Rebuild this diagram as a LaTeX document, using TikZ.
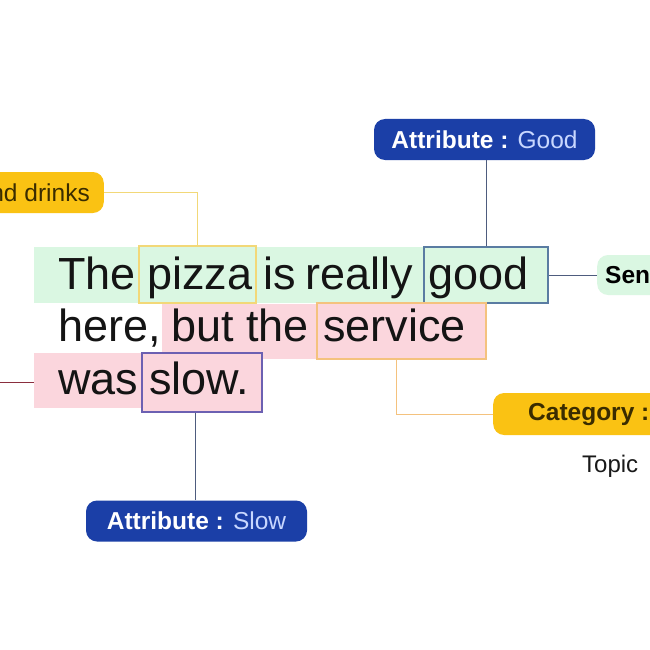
\documentclass[tikz,border=0pt]{standalone}
\usepackage{fontspec}
\setmainfont{Liberation Sans}
\begin{document}
\begin{tikzpicture}[x=1pt,y=-1pt,
  word/.style={anchor=base west,inner sep=0pt,text=black!92,font=\fontsize{45}{54}\selectfont},
  wbox/.style={rectangle,draw,line width=1.1pt,inner sep=0pt},
  pill/.style={rectangle,rounded corners=11pt,inner sep=0pt,minimum height=41pt,font=\fontsize{24.5}{29}\selectfont},
  conn/.style={line width=1pt}]
\definecolor{mint}{HTML}{DAF7E2}
\definecolor{pinkbg}{HTML}{FBD6DD}
\definecolor{ylw}{HTML}{F2D878}
\definecolor{orng}{HTML}{F4C27E}
\definecolor{slate}{HTML}{5A7CA2}
\definecolor{purp}{HTML}{6C60B2}
\definecolor{navy}{HTML}{1B3FA7}
\definecolor{lightnavy}{HTML}{C8D7FF}
\definecolor{gold}{HTML}{FAC213}
\definecolor{goldtext}{HTML}{3A2C00}
\definecolor{lineslate}{HTML}{4E5C7E}
\definecolor{darkred}{HTML}{8A2E3E}
\useasboundingbox (0,0) rectangle (650,650);
\clip (0,0) rectangle (650,650);
\fill[white] (0,0) rectangle (650,650);
% highlight bands
\fill[mint] (34,247) rectangle (548,303);
\fill[pinkbg] (162,304) rectangle (317,359);
\fill[pinkbg] (34,353) rectangle (142,408);
% word boxes
\node[wbox,draw=ylw,fill=mint,minimum width=117pt,minimum height=57pt] (pizzabox) at (197.5,274.5) {};
\node[wbox,draw=slate,fill=mint,minimum width=124pt,minimum height=56pt] (goodbox) at (486,275) {};
\node[wbox,draw=orng,fill=pinkbg,minimum width=169pt,minimum height=56pt] (servicebox) at (401.5,331) {};
\node[wbox,draw=purp,fill=pinkbg,minimum width=120pt,minimum height=59pt] (slowbox) at (202,382.5) {};
% words
\node[word] (w1) at (58,289) {The};
\node[word] (w2) at (147,289) {pizza};
\node[word] (w3) at (263,289) {is};
\node[word] (w4) at (305,289) {really};
\node[word] (w5) at (428,289) {good};
\node[word] (w6) at (58,341) {here,};
\node[word] (w7) at (171,341) {but the};
\node[word] (w8) at (323,341) {service};
\node[word] (w9) at (58,394) {was};
\node[word] (w10) at (149,394) {slow.};
% labels
\node[pill,fill=navy,minimum width=221pt] (attrgood) at (484.5,139.5) {\textcolor{white}{\bfseries Attribute :} \textcolor{lightnavy}{Good}};
\node[pill,fill=navy,minimum width=221pt] (attrslow) at (196.5,521) {\textcolor{white}{\bfseries Attribute :} \textcolor{lightnavy}{Slow}};
\node[pill,fill=gold,text=goldtext,anchor=east,inner xsep=14pt] (catfood) at (104,192.5) {Food and drinks};
\node[pill,fill=mint,text=black,anchor=west,inner xsep=8pt,minimum height=40pt] (sent) at (597,275) {\bfseries Sentiment};
\node[pill,fill=gold,text=goldtext,anchor=west,inner xsep=35pt,minimum height=42pt] (catserv) at (493,414) {\bfseries Category : Service};
\node[anchor=base west,inner sep=0pt,font=\fontsize{24}{29}\selectfont,text=black!90] (topic) at (582,472) {Topic};
\coordinate (leftend) at (0,382);
% connectors
\draw[conn,ylw] (catfood.east) -| (pizzabox.north);
\draw[conn,lineslate] (goodbox.north) -- (goodbox.north |- attrgood.south);
\draw[conn,lineslate] (goodbox.east) -- (sent.west);
\draw[conn,orng] ([xshift=-5.5pt]servicebox.south) |- (catserv.west);
\draw[conn,lineslate] ([xshift=-7pt]slowbox.south) -- ([xshift=-7pt]slowbox.south |- attrslow.north);
\draw[conn,darkred] (leftend) -- (34,382);
\end{tikzpicture}
\end{document}
